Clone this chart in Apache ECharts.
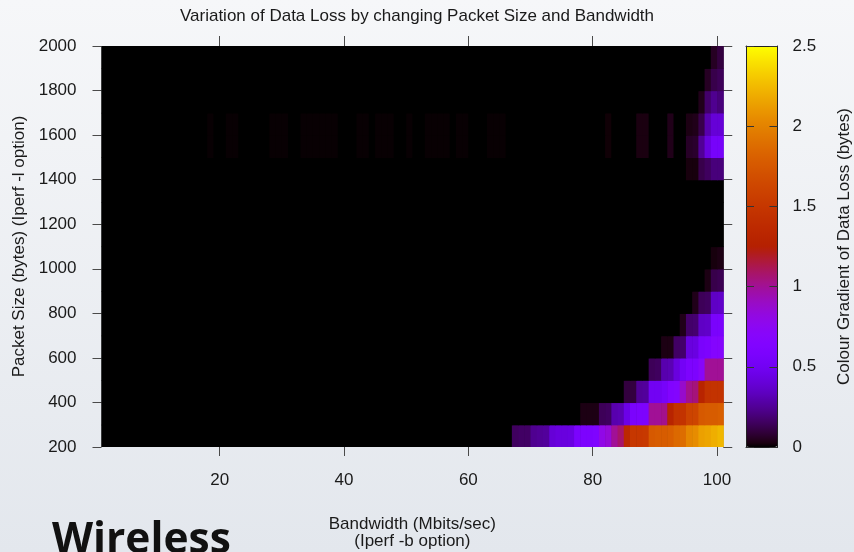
<!DOCTYPE html>
<html><head><meta charset="utf-8">
<script src="https://cdn.jsdelivr.net/npm/echarts@6/dist/echarts.min.js"></script>
<style>html,body{margin:0;padding:0;background:#eef0f4}#c{width:854px;height:552px}</style>
</head><body><div id="c"></div>
<script>
// ---- Data ----
const chartTitle = 'Variation of Data Loss by changing Packet Size and Bandwidth';
const xTickValues = [20, 40, 60, 80, 100];
const bandwidthMin = 1, bandwidthMax = 101;          // x extent of cells (Mbits/sec)
const packetMin = 200, packetMax = 2000, packetStep = 100;
const colourMin = 0, colourMax = 2.5;
// lower edge of each packet-size row (bytes)
const packetSizes = [200, 300, 400, 500, 600, 700, 800, 900, 1000, 1100, 1200, 1300, 1400, 1500, 1600, 1700, 1800, 1900];
// first bandwidth column stored in lossRows; columns below it are 0 except the faint cells
const rowStartColumn = 61;
// data loss per row for bandwidth columns 61..100
const lossRows = [
  [0,0,0,0,0,0, 0.15,0.16,0.16, 0.24,0.25,0.26, 0.4,0.42,0.42,0.43, 0.58,0.6,0.6,0.62, 0.8,0.85, 1.0,1.08, 1.35, 1.5,1.5,1.52, 1.76,1.78,1.78,1.8, 1.86,1.88, 2.02,2.05, 2.14,2.16, 2.2,2.24],
  [0,0,0,0,0,0,0,0,0,0,0,0,0,0,0,0,0, 0.03,0.03,0.03, 0.14,0.15, 0.3,0.31, 0.45, 0.58,0.6,0.6, 1.0,1.0,1.02, 1.3, 1.45,1.46, 1.6,1.62, 1.76,1.78,1.78,1.8],
  [0,0,0,0,0,0,0,0,0,0,0,0,0,0,0,0,0,0,0,0,0,0,0,0, 0.1,0.1, 0.25,0.26, 0.5,0.5,0.55, 0.64,0.66, 0.88, 1.02,1.05, 1.3, 1.45,1.46,1.46],
  [0,0,0,0,0,0,0,0,0,0,0,0,0,0,0,0,0,0,0,0,0,0,0,0,0,0,0,0, 0.14,0.15, 0.3,0.31, 0.42, 0.52, 0.6,0.6, 0.7, 1.0,1.0,1.0],
  [0,0,0,0,0,0,0,0,0,0,0,0,0,0,0,0,0,0,0,0,0,0,0,0,0,0,0,0,0,0, 0.03,0.03, 0.16,0.17, 0.42,0.43, 0.57, 0.6, 0.67,0.68],
  [0,0,0,0,0,0,0,0,0,0,0,0,0,0,0,0,0,0,0,0,0,0,0,0,0,0,0,0,0,0,0,0,0, 0.04, 0.17,0.18, 0.35,0.36, 0.57,0.58],
  [0,0,0,0,0,0,0,0,0,0,0,0,0,0,0,0,0,0,0,0,0,0,0,0,0,0,0,0,0,0,0,0,0,0,0, 0.04, 0.14,0.15, 0.35,0.36],
  [0,0,0,0,0,0,0,0,0,0,0,0,0,0,0,0,0,0,0,0,0,0,0,0,0,0,0,0,0,0,0,0,0,0,0,0,0, 0.03, 0.12,0.13],
  [0,0,0,0,0,0,0,0,0,0,0,0,0,0,0,0,0,0,0,0,0,0,0,0,0,0,0,0,0,0,0,0,0,0,0,0,0,0, 0.02,0.03],
  [0,0,0,0,0,0,0,0,0,0,0,0,0,0,0,0,0,0,0,0,0,0,0,0,0,0,0,0,0,0,0,0,0,0,0,0,0,0,0,0],
  [0,0,0,0,0,0,0,0,0,0,0,0,0,0,0,0,0,0,0,0,0,0,0,0,0,0,0,0,0,0,0,0,0,0,0,0,0,0,0,0],
  [0,0,0,0,0,0,0,0,0,0,0,0,0,0,0,0,0,0,0,0,0,0,0,0,0,0,0,0,0,0,0,0,0,0,0,0,0,0,0,0],
  [0,0,0,0,0,0,0,0,0,0,0,0,0,0,0,0,0,0,0,0,0,0,0,0,0,0,0,0,0,0,0,0,0,0, 0.02,0.02, 0.12, 0.15, 0.2,0.2],
  [0,0,0.005,0.005,0.005,0,0,0,0,0,0,0,0,0,0,0,0,0,0,0,0, 0.01, 0,0,0,0, 0.025,0.025, 0,0,0, 0.04, 0,0, 0.06,0.07, 0.25, 0.42, 0.55,0.55],
  [0,0,0.005,0.005,0.005,0,0,0,0,0,0,0,0,0,0,0,0,0,0,0,0, 0.01, 0,0,0,0, 0.025,0.025, 0,0,0, 0.04, 0,0, 0.03,0.04, 0.12, 0.3, 0.4,0.4],
  [0,0,0,0,0,0,0,0,0,0,0,0,0,0,0,0,0,0,0,0,0,0,0,0,0,0,0,0,0,0,0,0,0,0,0,0, 0.04, 0.17, 0.24,0.2],
  [0,0,0,0,0,0,0,0,0,0,0,0,0,0,0,0,0,0,0,0,0,0,0,0,0,0,0,0,0,0,0,0,0,0,0,0,0, 0.055, 0.12,0.14],
  [0,0,0,0,0,0,0,0,0,0,0,0,0,0,0,0,0,0,0,0,0,0,0,0,0,0,0,0,0,0,0,0,0,0,0,0,0,0, 0.055,0.1]
];
// very faint loss in the 1500 and 1600 rows at lower bandwidths
const faintRows = [1500, 1600];
const faintColumns = [18, 21, 22, 28, 29, 30, 33, 34, 35, 36, 37, 38, 42, 43, 45, 46, 47, 50, 53, 54, 55, 56, 58, 59];
const faintLoss = 0.005;

// ---- Build cells ----
const cells = [];
packetSizes.forEach((p, r) => {
  for (let c = bandwidthMin; c < bandwidthMax; c++) {
    let v = 0;
    if (c >= rowStartColumn) v = lossRows[r][c - rowStartColumn];
    else if (faintRows.includes(p) && faintColumns.includes(c)) v = faintLoss;
    cells.push([c, p, v]);
  }
});

// gnuplot default pm3d palette (rgbformulae 7,5,15)
const palette = [];
for (let i = 0; i <= 255; i++) {
  const x = i / 255;
  const r = Math.sqrt(x), g = x * x * x, b = Math.max(0, Math.sin(2 * Math.PI * x));
  palette.push('rgb(' + Math.round(r * 255) + ',' + Math.round(g * 255) + ',' + Math.round(b * 255) + ')');
}

const FONT = 'Liberation Sans';
const TXT = '#1a1a1a';
const TICK = '#4a4a4a';
const plain = v => String(v);
const barLine = {show: true, onZero: false, lineStyle: {color: '#222', width: 1}};

const chart = echarts.init(document.getElementById('c'), null, {renderer: 'canvas'});
chart.setOption({
  animation: false,
  backgroundColor: {type: 'linear', x: 0, y: 0, x2: 0, y2: 1,
    colorStops: [{offset: 0, color: '#f6f7f9'}, {offset: 1, color: '#e3e7ed'}]},
  title: {text: chartTitle, left: 412, top: 3, textAlign: 'center',
    textStyle: {fontFamily: FONT, fontSize: 17, fontWeight: 'normal', color: TXT}},
  grid: [
    {left: 101.5, top: 46, width: 621.75, height: 401, show: true, backgroundColor: '#000', borderWidth: 0,
      outerBoundsMode: 'none', containLabel: false},
    {left: 746, top: 46, width: 31.5, height: 401, show: false, outerBoundsMode: 'none', containLabel: false}
  ],
  visualMap: {
    type: 'continuous', min: colourMin, max: colourMax, dimension: 2, seriesIndex: 0,
    calculable: false, hoverLink: false, show: true, left: 746, top: 46, padding: 0, z: 1,
    itemWidth: 31.5, itemHeight: 401, text: null, showLabel: false,
    inRange: {color: palette}
  },
  xAxis: [
    {gridIndex: 0, type: 'value', min: bandwidthMin, max: bandwidthMax, position: 'bottom',
      axisLine: {show: false, onZero: false}, splitLine: {show: false},
      axisTick: {show: true, inside: false, length: 9, customValues: xTickValues, lineStyle: {color: TICK}},
      axisLabel: {customValues: xTickValues, margin: 25, fontFamily: FONT, fontSize: 17, color: TXT, formatter: plain},
      name: 'Bandwidth (Mbits/sec)\n(Iperf -b option)', nameLocation: 'middle', nameGap: 69,
      nameTextStyle: {fontFamily: FONT, fontSize: 17, color: TXT, lineHeight: 17}},
    {gridIndex: 0, type: 'value', min: bandwidthMin, max: bandwidthMax, position: 'top',
      axisLine: {show: false, onZero: false}, splitLine: {show: false},
      axisTick: {show: true, inside: false, length: 10, customValues: xTickValues, lineStyle: {color: TICK}},
      axisLabel: {show: false}},
    {gridIndex: 1, type: 'value', min: 0, max: 1, position: 'bottom', z: 10,
      axisLine: barLine, axisTick: {show: false},
      axisLabel: {show: false}, splitLine: {show: false}},
    {gridIndex: 1, type: 'value', min: 0, max: 1, position: 'top', z: 10,
      axisLine: barLine, axisTick: {show: false},
      axisLabel: {show: false}, splitLine: {show: false}}
  ],
  yAxis: [
    {gridIndex: 0, type: 'value', min: packetMin, max: packetMax, interval: 200, position: 'left',
      axisLine: {show: false, onZero: false}, splitLine: {show: false},
      axisTick: {show: true, inside: false, length: 9, lineStyle: {color: TICK}},
      axisLabel: {margin: 25, fontFamily: FONT, fontSize: 17, color: TXT, formatter: plain},
      name: 'Packet Size (bytes) (Iperf -l option)', nameLocation: 'middle', nameGap: 69,
      nameTextStyle: {fontFamily: FONT, fontSize: 17, color: TXT}},
    {gridIndex: 0, type: 'value', min: packetMin, max: packetMax, interval: 200, position: 'right',
      axisLine: {show: false, onZero: false}, splitLine: {show: false},
      axisTick: {show: true, inside: false, length: 9, lineStyle: {color: TICK}},
      axisLabel: {show: false}},
    {gridIndex: 1, type: 'value', min: colourMin, max: colourMax, interval: 0.5, position: 'right', z: 10,
      axisLine: barLine, splitLine: {show: false},
      axisTick: {show: true, inside: true, length: 8, lineStyle: {color: '#333'}},
      axisLabel: {margin: 15, fontFamily: FONT, fontSize: 17, color: TXT, formatter: plain},
      name: 'Colour Gradient of Data Loss (bytes)', nameLocation: 'middle', nameGap: 58, nameRotate: 90,
      nameTextStyle: {fontFamily: FONT, fontSize: 17, color: TXT}},
    {gridIndex: 1, type: 'value', min: colourMin, max: colourMax, interval: 0.5, position: 'left', z: 10,
      axisLine: barLine, splitLine: {show: false},
      axisTick: {show: true, inside: true, length: 8, lineStyle: {color: '#333'}},
      axisLabel: {show: false}}
  ],
  series: [{
    type: 'custom', xAxisIndex: 0, yAxisIndex: 0, clip: true,
    data: cells,
    encode: {x: 0, y: 1},
    renderItem: function (params, api) {
      const x = api.value(0), y = api.value(1);
      const p0 = api.coord([x, y + packetStep]);
      const p1 = api.coord([x + 1, y]);
      return {type: 'rect',
        shape: {x: p0[0], y: p0[1], width: p1[0] - p0[0] + 0.6, height: p1[1] - p0[1] + 0.6},
        style: {fill: api.visual('color')}};
    }
  }],
  graphic: [{
    type: 'text', left: 52, top: 519, z: 100,
    style: {text: 'Wireless', font: 'bold 42.5px "Open Sans"', fill: '#111'}
  }]
});
</script></body></html>
